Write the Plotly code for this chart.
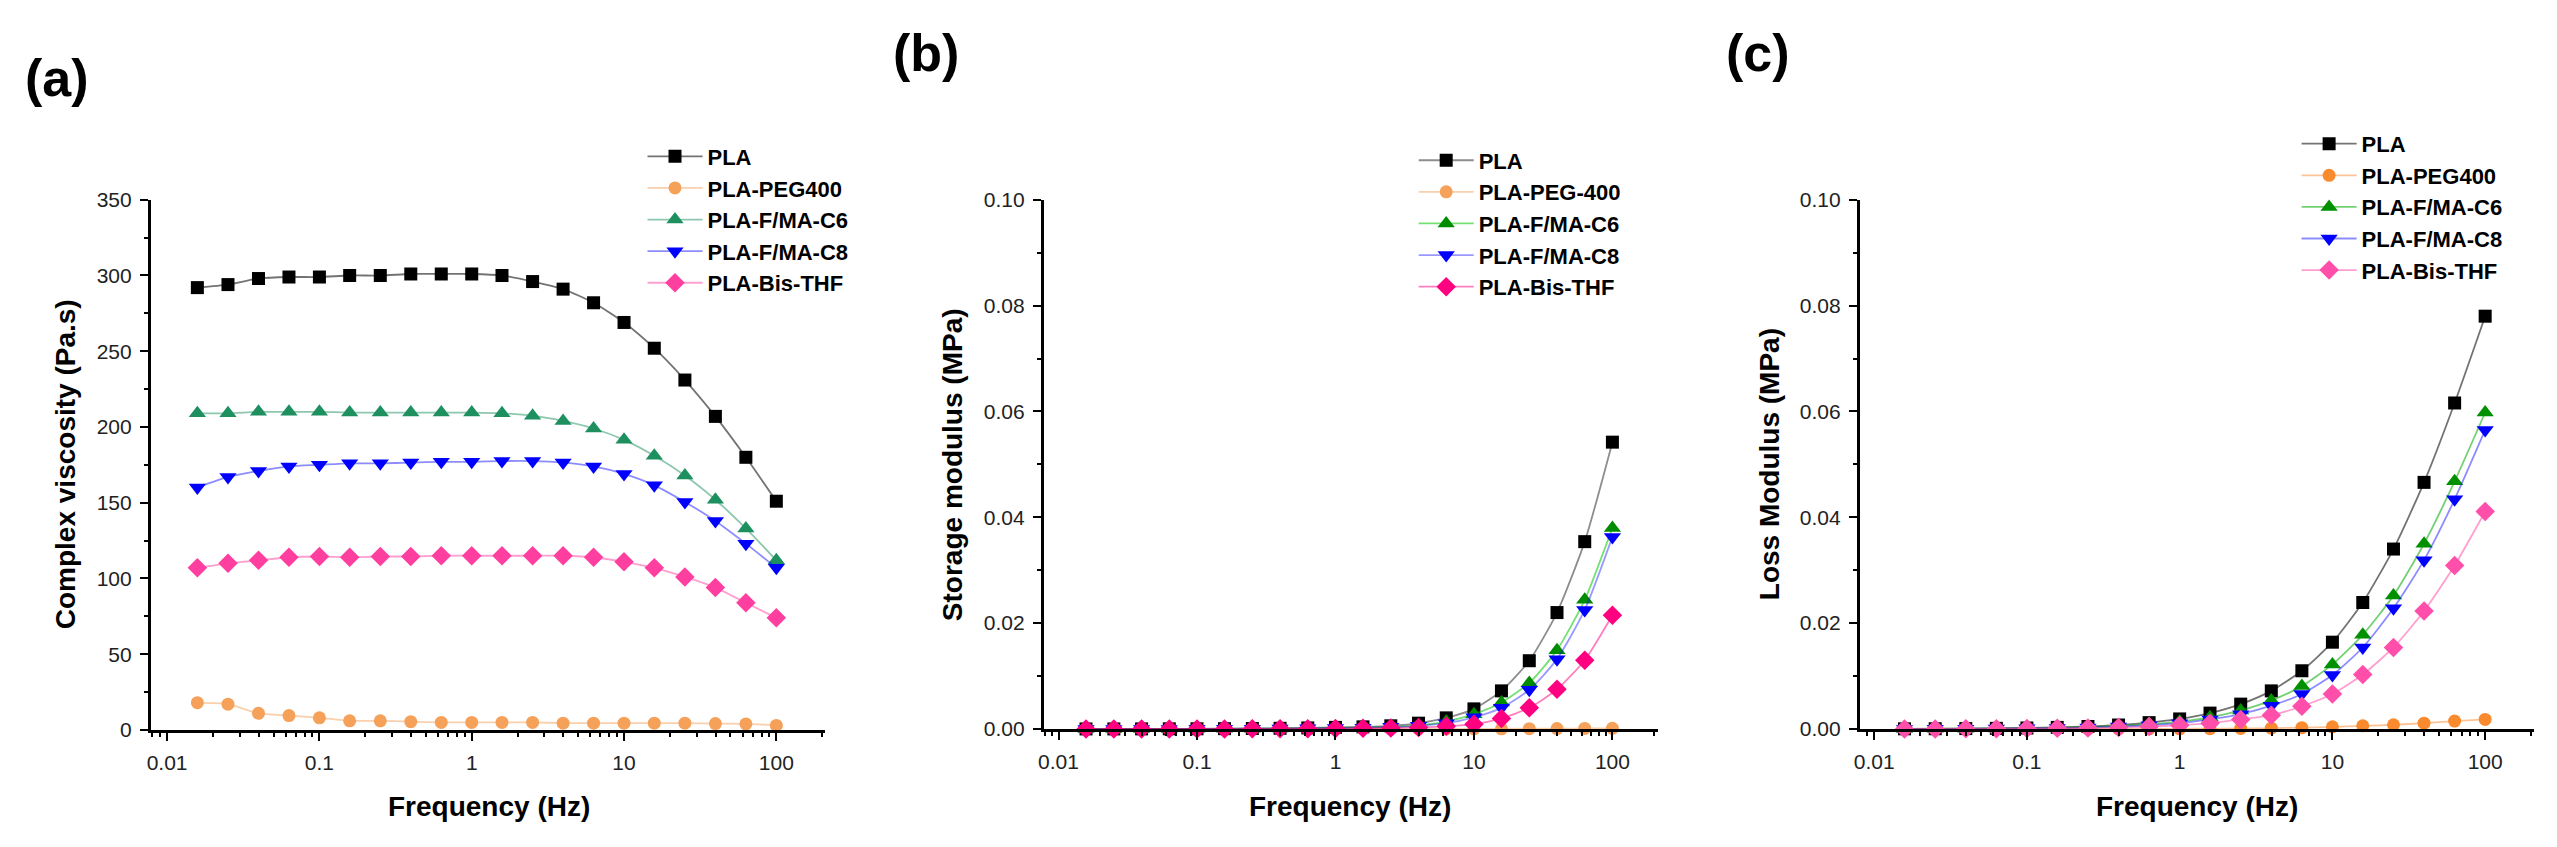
import plotly.graph_objects as go

# ---------------- data ----------------
freq = [0.0158, 0.0251, 0.0398, 0.0631, 0.1, 0.158, 0.251, 0.398, 0.631, 1.0,
        1.58, 2.51, 3.98, 6.31, 10.0, 15.8, 25.1, 39.8, 63.1, 100.0]

names_a = ["PLA", "PLA-PEG400", "PLA-F/MA-C6", "PLA-F/MA-C8", "PLA-Bis-THF"]
names_b = ["PLA", "PLA-PEG-400", "PLA-F/MA-C6", "PLA-F/MA-C8", "PLA-Bis-THF"]
names_c = ["PLA", "PLA-PEG400", "PLA-F/MA-C6", "PLA-F/MA-C8", "PLA-Bis-THF"]

# (a) complex viscosity, Pa.s
visc_pla = [292, 294, 298, 299, 299, 300, 300, 301, 301, 301, 300, 296, 291, 282, 269, 252, 231, 207, 180, 151]
visc_peg = [18, 17, 11, 9.5, 8, 6, 6, 5.5, 5, 5, 5, 5, 4.5, 4.5, 4.5, 4.5, 4.5, 4.2, 4, 3]
visc_c6 = [209, 209, 210, 210, 210, 209.5, 209.5, 209.5, 209.5, 209.5, 209, 207.5, 204, 199, 191.5, 181, 168, 152, 133, 112]
visc_c8 = [160, 167, 171, 174, 175, 176, 176, 176.5, 177, 177, 177.5, 177.5, 176.5, 174, 169, 161.5, 150.5, 138, 123, 107]
visc_bis = [107, 110, 112, 114, 114.5, 114, 114.5, 114.5, 115, 115, 115, 115, 115, 114, 111, 107, 101, 94, 84, 74]

# (b) storage modulus, MPa
gp_pla = [0.00001, 0.00001, 0.00002, 0.00003, 0.00004, 0.00006, 0.00009, 0.00013, 0.0002, 0.0003,
          0.0004, 0.0006, 0.0011, 0.0021, 0.0038, 0.0072, 0.0129, 0.022, 0.0354, 0.0542]
gp_peg = [0.00001, 0.00001, 0.00001, 0.00001, 0.00001, 0.00001, 0.00001, 0.00001, 0.00001, 0.00001,
          0.00001, 0.00001, 0.00002, 0.00002, 0.00003, 0.00004, 0.00005, 0.00007, 0.0001, 0.00012]
gp_c6 = [0.00001, 0.00001, 0.00002, 0.00002, 0.00003, 0.00004, 0.00006, 0.00009, 0.00013, 0.0002,
         0.0003, 0.0004, 0.0007, 0.0014, 0.0028, 0.005, 0.0087, 0.0149, 0.0244, 0.038]
gp_c8 = [0.00001, 0.00001, 0.00002, 0.00002, 0.00003, 0.00004, 0.00005, 0.00008, 0.00012, 0.00018,
         0.00025, 0.0004, 0.0006, 0.0011, 0.0022, 0.004, 0.0074, 0.0132, 0.0225, 0.0363]
gp_bis = [0.00001, 0.00001, 0.00001, 0.00001, 0.00002, 0.00002, 0.00003, 0.00004, 0.00006, 0.00009,
          0.00013, 0.0002, 0.0003, 0.0005, 0.0009, 0.002, 0.004, 0.0075, 0.013, 0.0215]

# (c) loss modulus, MPa
gpp_pla = [0.00003, 0.000046, 0.000075, 0.00012, 0.00019, 0.0003, 0.00047, 0.00075, 0.0012, 0.0019,
           0.003, 0.0047, 0.0072, 0.011, 0.0164, 0.0239, 0.034, 0.0466, 0.0616, 0.078]
gpp_peg = [0.000002, 0.000003, 0.000004, 0.000005, 0.000007, 0.00001, 0.000015, 0.00002, 0.00003, 0.00004,
           0.00006, 0.0001, 0.00016, 0.00025, 0.0004, 0.0006, 0.0008, 0.0011, 0.0015, 0.0018]
gpp_c6 = [0.00002, 0.000035, 0.000055, 0.00009, 0.00014, 0.00022, 0.00035, 0.00055, 0.0009, 0.0014,
          0.0022, 0.0035, 0.0054, 0.0081, 0.0122, 0.0178, 0.0252, 0.035, 0.0468, 0.0598]
gpp_c8 = [0.000018, 0.00003, 0.000048, 0.00008, 0.00012, 0.00018, 0.00028, 0.00045, 0.0007, 0.0011,
          0.0018, 0.0028, 0.0044, 0.0066, 0.0102, 0.0154, 0.0228, 0.0319, 0.0434, 0.0565]
gpp_bis = [0.00001, 0.000018, 0.00003, 0.00005, 0.00008, 0.00012, 0.00018, 0.00028, 0.00045, 0.0007,
           0.0011, 0.0018, 0.0026, 0.0043, 0.0066, 0.0103, 0.0154, 0.0223, 0.0309, 0.0411]

x_tick_vals = [0.01, 0.1, 1, 10, 100]
x_tick_text = ["0.01", "0.1", "1", "10", "100"]
y_ticks_a = [0, 50, 100, 150, 200, 250, 300, 350]
y_ticks_bc = [0.0, 0.02, 0.04, 0.06, 0.08, 0.10]

# ---------------- styles ----------------
symbols = ["square", "circle", "triangle-up", "triangle-down", "diamond"]
sizes = [13, 13, 15, 15, 15]
colors_a = ["#000000", "#F5A15A", "#1E9060", "#0000FF", "#FF3FA0"]
lines_a = ["rgba(80,80,80,0.8)", "rgba(245,161,90,0.5)", "rgba(30,144,96,0.5)",
           "rgba(0,0,255,0.45)", "rgba(255,63,160,0.5)"]
colors_b = ["#000000", "#F5A15A", "#008C00", "#0000FF", "#FF0080"]
lines_b = ["rgba(80,80,80,0.65)", "rgba(245,161,90,0.5)", "rgba(0,200,0,0.55)",
           "rgba(0,0,255,0.4)", "rgba(255,0,128,0.5)"]
colors_c = ["#000000", "#FA8A2E", "#009000", "#0000FF", "#FF4FAA"]
lines_c = ["rgba(80,80,80,0.8)", "rgba(250,138,46,0.5)", "rgba(0,170,0,0.55)",
           "rgba(0,0,255,0.45)", "rgba(255,79,170,0.55)"]

FONT = "Liberation Sans, Arial, sans-serif"
W, H = 2557, 847

fig = go.Figure()

panels = [
    ("x", "y", "legend", names_a, [visc_pla, visc_peg, visc_c6, visc_c8, visc_bis], colors_a, lines_a),
    ("x2", "y2", "legend2", names_b, [gp_pla, gp_peg, gp_c6, gp_c8, gp_bis], colors_b, lines_b),
    ("x3", "y3", "legend3", names_c, [gpp_pla, gpp_peg, gpp_c6, gpp_c8, gpp_bis], colors_c, lines_c),
]
for xa, ya, lg, names, data, cols, lcols in panels:
    for name, vals, sym, sz, col, lc in zip(names, data, symbols, sizes, cols, lcols):
        fig.add_trace(go.Scatter(
            x=freq, y=vals, name=name, xaxis=xa, yaxis=ya, legend=lg,
            mode="lines+markers", cliponaxis=False,
            line=dict(color=lc, width=1.8, shape="spline", smoothing=0.6),
            marker=dict(symbol=sym, size=sz, color=col, line=dict(width=0)),
        ))

def px_x(p):
    return p / W

def px_y(p):
    return 1 - p / H

minor_log = [m * 10 ** e for e in range(-3, 3) for m in range(2, 10)]

axis_common = dict(
    showline=True, linecolor="black", linewidth=2.5, mirror=False,
    ticks="outside", ticklen=8, tickwidth=2, tickcolor="black",
    showgrid=False, zeroline=False,
    tickfont=dict(family=FONT, size=21, color="#222222"),
    ticklabelstandoff=4,
)

def xaxis_cfg(x0, x1, rng, anchor):
    return dict(axis_common, type="log", domain=[px_x(x0), px_x(x1)], range=rng, anchor=anchor,
                tickmode="array", tickvals=x_tick_vals, ticktext=x_tick_text,
                minor=dict(ticks="outside", ticklen=4, tickwidth=1.5, tickcolor="black",
                           tickmode="array", tickvals=minor_log, showgrid=False))

def yaxis_cfg(y0, y1, rng, anchor, tickvals, fmt, minor_dtick):
    return dict(axis_common, domain=[px_y(y1), px_y(y0)], range=rng, anchor=anchor,
                tickmode="array", tickvals=tickvals, tickformat=fmt,
                minor=dict(ticks="outside", ticklen=4, tickwidth=1.5, tickcolor="black",
                           dtick=minor_dtick, tick0=0, showgrid=False))

fig.update_layout(
    width=W, height=H, autosize=False,
    margin=dict(l=0, r=0, t=0, b=0),
    paper_bgcolor="white", plot_bgcolor="white",
    font=dict(family=FONT, color="black"),
    xaxis=xaxis_cfg(145, 821, [-2.108, 2.32], "y"),
    yaxis=yaxis_cfg(193, 738, [0, 350], "x", y_ticks_a, "d", 25),
    xaxis2=xaxis_cfg(1040, 1656, [-2.108, 2.33], "y2"),
    yaxis2=yaxis_cfg(193, 737, [0, 0.10], "x2", y_ticks_bc, ".2f", 0.01),
    xaxis3=xaxis_cfg(1858, 2534, [-2.095, 2.32], "y3"),
    yaxis3=yaxis_cfg(193, 737, [0, 0.10], "x3", y_ticks_bc, ".2f", 0.01),
)

legend_common = dict(
    font=dict(family=FONT, size=22, color="black", weight="bold"),
    bgcolor="rgba(0,0,0,0)", borderwidth=0, xanchor="left", yanchor="top",
    tracegroupgap=0, itemwidth=55,
)
fig.update_layout(
    legend=dict(legend_common, x=px_x(638), y=px_y(127)),
    legend2=dict(legend_common, x=px_x(1411), y=px_y(131)),
    legend3=dict(legend_common, x=px_x(2296), y=px_y(114)),
)

annotations = []
for txt, cx, cy in [("(a)", 51, 68), ("(b)", 922, 42), ("(c)", 1756, 42)]:
    annotations.append(dict(text=txt, x=px_x(cx), y=px_y(cy), xref="paper", yref="paper",
                            showarrow=False, xanchor="center", yanchor="middle",
                            font=dict(family=FONT, size=52, color="black", weight="bold")))
for cx in [484, 1347, 2196]:
    annotations.append(dict(text="Frequency (Hz)", x=px_x(cx), y=px_y(817), xref="paper", yref="paper",
                            showarrow=False, xanchor="center", yanchor="middle",
                            font=dict(family=FONT, size=28, color="black", weight="bold")))
for txt, cx in [("Complex viscosity (Pa.s)", 60), ("Storage modulus (MPa)", 949), ("Loss Modulus (MPa)", 1768)]:
    annotations.append(dict(text=txt, x=px_x(cx), y=px_y(465), xref="paper", yref="paper",
                            showarrow=False, xanchor="center", yanchor="middle", textangle=-90,
                            font=dict(family=FONT, size=28, color="black", weight="bold")))
fig.update_layout(annotations=annotations)

fig.write_html("out.html", config={"displayModeBar": False},
               post_script="document.body.style.margin='0';")
